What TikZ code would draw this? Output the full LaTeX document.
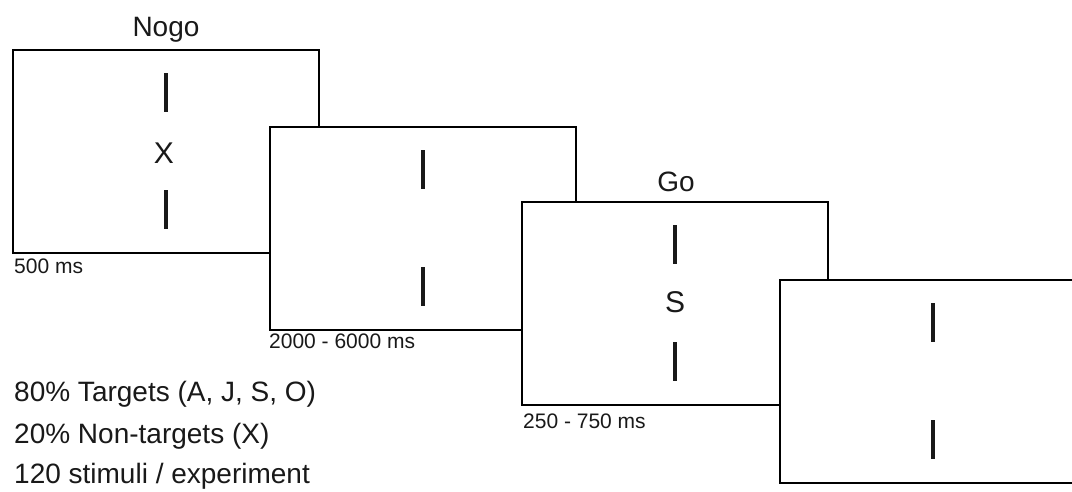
\documentclass[tikz,border=0pt]{standalone}
\usepackage{fontspec}
\setmainfont{Liberation Sans}
\usetikzlibrary{calc}
\tikzset{
  stim/.style={draw=black, fill=white, line width=2pt, minimum width=306pt, minimum height=203pt, inner sep=0pt, anchor=north west},
  bar/.style={line width=4pt, draw=black!90},
  letter/.style={font=\fontsize{30}{34}\selectfont, inner sep=0pt, text=black!90},
  title/.style={font=\fontsize{28}{32}\selectfont, inner sep=0pt, anchor=base, text=black!90},
  timelbl/.style={font=\fontsize{21}{24}\selectfont, inner sep=0pt, anchor=base west, text=black!90},
  info/.style={font=\fontsize{28}{32}\selectfont, inner sep=0pt, anchor=base west, text=black!90}
}
\begin{document}
\begin{tikzpicture}[x=1pt, y=-1pt]
\useasboundingbox (0,0) rectangle (1072,491);
\clip (0,0) rectangle (1072,491);
\fill[white] (0,0) rectangle (1072,491);
% boxes
\node[stim] (b1) at (12,49) {};
\node[stim] (b2) at (269,126) {};
\node[stim] (b3) at (521,201) {};
\node[stim] (b4) at (779,279) {};
% bars
\foreach \b in {b1,b2,b3,b4}{
  \draw[bar] ($(\b.north)+(0,24)$) -- ($(\b.north)+(0,63)$);
  \draw[bar] ($(\b.north)+(0,141)$) -- ($(\b.north)+(0,180)$);
}
% letters
\node[letter] (lx) at ($(b1.north)+(-2,104)$) {X};
\node[letter] (ls) at ($(b3.north)+(0,101)$) {S};
% titles
\node[title] (nogo) at (166,36) {Nogo};
\node[title] (go) at (676,191) {Go};
% time labels
\node[timelbl] (t1) at (14,273) {500 ms};
\node[timelbl] (t2) at (269,348) {2000 - 6000 ms};
\node[timelbl] (t3) at (523,428) {250 - 750 ms};
% info
\node[info] (i1) at (14,401) {80\% Targets (A, J, S, O)};
\node[info] (i2) at (14,443) {20\% Non-targets (X)};
\node[info] (i3) at (14,483) {120 stimuli / experiment};
\end{tikzpicture}
\end{document}
